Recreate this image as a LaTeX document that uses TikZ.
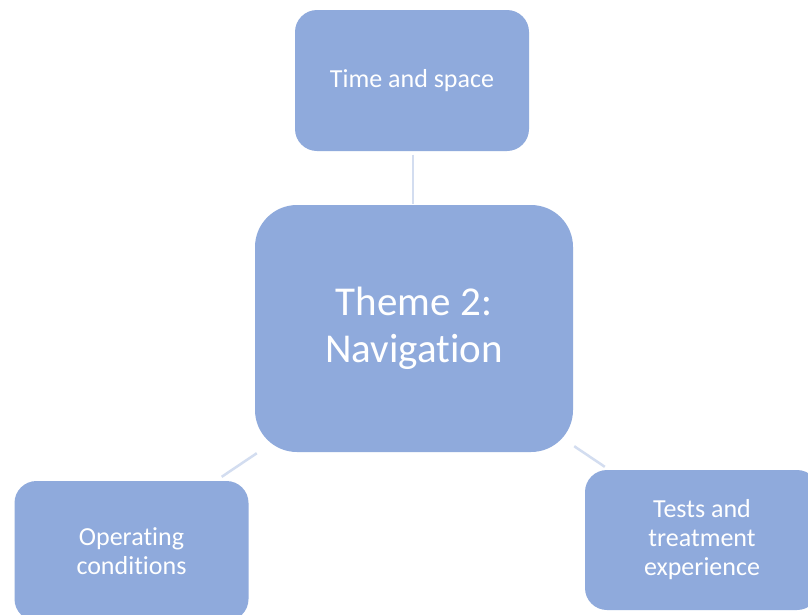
\documentclass[tikz,border=0pt]{standalone}
\usepackage{fontspec}
\setmainfont{Carlito}[Ligatures=CommonOff]
\usetikzlibrary{calc}
\definecolor{boxfill}{HTML}{8FAADC}
\definecolor{linkcol}{HTML}{D3DDF0}
\tikzset{
  themebox/.style={draw=none, fill=boxfill, text=white, align=center,
    inner sep=0pt, font=\fontsize{26}{29}\selectfont,
    minimum width=234pt, minimum height=140pt, rounded corners=22pt},
  centrebox/.style={themebox, minimum width=318pt, minimum height=247pt,
    rounded corners=42pt, font=\fontsize{41}{47}\selectfont},
  link/.style={draw=linkcol, line width=2.5pt}
}
\begin{document}
\begin{tikzpicture}[x=1pt, y=-1pt]
  \useasboundingbox (0,0) rectangle (808,614);
  \clip (0,0) rectangle (808,614);
  \fill[white] (0,0) rectangle (808,614);

  % central theme and its three sub-themes
  \node[centrebox] (c) at (414,328.5) {Theme 2:\\Navigation};
  \node[themebox, minimum height=141pt] (top) at (412,80.5) {Time and space};
  \node[themebox] (bl) at (131.5,551) {Operating\\conditions};
  \node[themebox] (br) at (702,540) {Tests and\\treatment\\experience};

  % radial connectors
  \draw[link] ($(top.south)+(1,3.5)$) -- ($(c.north)+(-1,-1)$);
  \draw[link] ($(c.south west)+(2,1)$) -- ($(bl.north east)+(-27,-4)$);
  \draw[link] ($(c.south east)+(1,-6)$) -- ($(br.north west)+(20,-3)$);
\end{tikzpicture}
\end{document}
